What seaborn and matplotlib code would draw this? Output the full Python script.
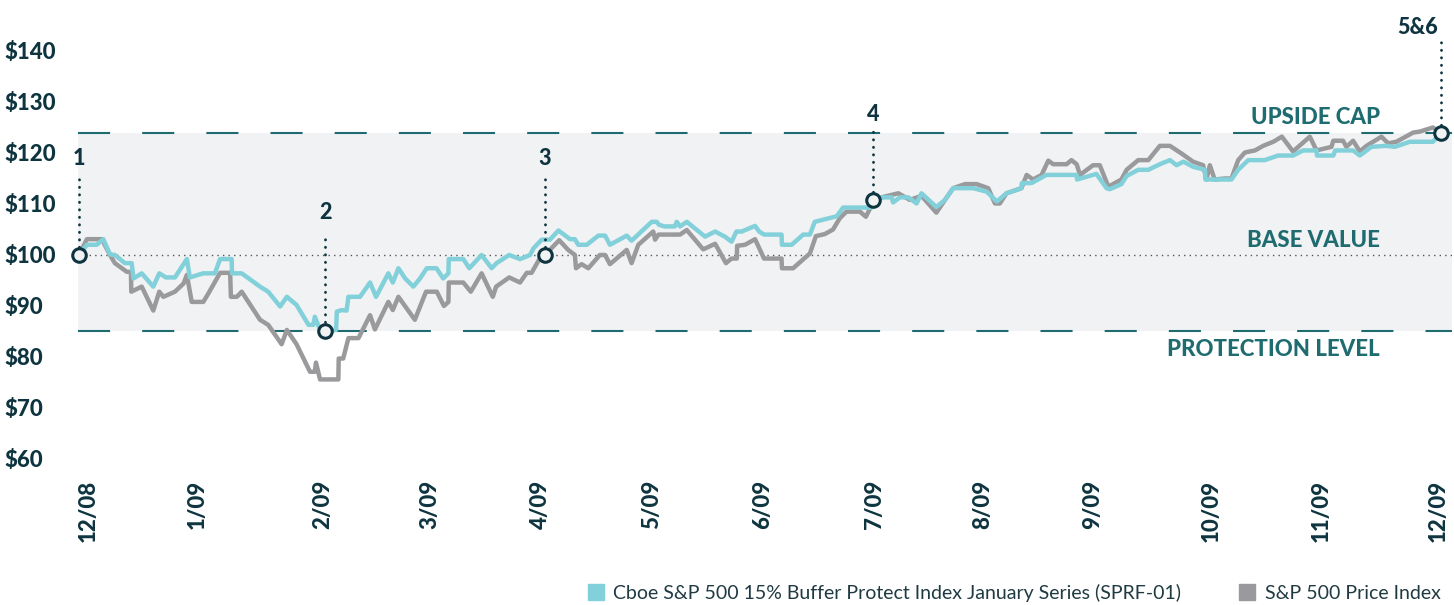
import matplotlib
matplotlib.use('Agg')
import matplotlib.pyplot as plt
import seaborn as sns
import pandas as pd
from matplotlib.lines import Line2D

# calendar days since the start of the outcome period
sprf_days = [0, 2.1, 4.7, 6.5, 8.3, 9.6, 12.3, 14.1, 14.6, 16.8, 19.9, 21.5, 23.3, 25.7, 28.9, 29.7,
             33.3, 36.4, 37.8, 40.9, 41.0, 43.6, 48.5, 50.7, 53.9, 55.7, 58.3, 61.5, 62.8, 63.2, 64.6,
             68.9, 69.1, 70.4, 71.7, 72.2, 75.3, 78.0, 79.6, 82.9, 84.1, 85.6, 87.4, 89.6, 91.4, 93.2,
             95.8, 97.6, 99.0, 99.1, 103.0, 104.6, 107.9, 110.6, 111.9, 115.3, 118.2, 120.9, 121.8,
             124.0, 126.2, 128.5, 131.6, 132.9, 133.8, 136.1, 139.2, 141.0, 142.3, 146.8, 148.1,
             153.5, 154.8, 155.5, 157.0, 159.7, 160.2, 161.1, 162.9, 167.8, 170.5, 173.1, 174.9,
             176.2, 177.6, 181.2, 182.3, 183.6, 188.3, 188.4, 191.0, 194.1, 195.9, 197.2, 199.9,
             203.1, 204.8, 212.4, 213.1, 215.1, 217.8, 218.2, 220.0, 222.3, 224.5, 225.8, 229.8,
             232.1, 234.3, 239.7, 243.3, 246.0, 248.6, 252.6, 252.7, 255.3, 259.3, 267.4, 267.5,
             272.7, 275.4, 276.3, 279.4, 280.8, 283.9, 286.6, 289.7, 292.4, 294.2, 296.0, 298.6,
             301.8, 301.9, 304.9, 308.9, 310.7, 313.4, 317.8, 321.4, 325.4, 328.1, 331.7, 331.8,
             336.2, 336.7, 341.5, 343.3, 346.4, 350.4, 352.7, 356.7, 362.9, 365.0]
sprf_vals = [100, 102, 102, 103.1, 100.1, 100, 98.4, 98.4, 95.4, 96.4, 93.8, 96.4, 95.6, 95.6, 99.2, 95.6,
             96.4, 96.4, 99.2, 99.2, 96.4, 96.4, 93.8, 92.8, 89.9, 91.8, 90.2, 86.3, 86.3, 87.9, 85.3,
             85.3, 88.9, 89.2, 89.1, 91.8, 91.8, 94.6, 91.8, 96.4, 94.6, 97.4, 95.4, 93.8, 95.4, 97.4,
             97.4, 95.4, 96.4, 99.2, 99.2, 97.4, 100, 97.4, 98.4, 100, 99.2, 100, 101.3,
             103, 103, 104.8, 103.1, 103.1, 102, 102, 103.8, 103.8, 102, 103.8, 102.8,
             106.5, 106.5, 105.9, 105.6, 105.6, 106.5, 105.6, 106.5, 103.6, 104.6, 103.6, 102.6,
             104.6, 104.6, 105.7, 104.6, 104, 104, 102, 102, 104, 104, 106.5, 107,
             107.6, 109.3, 109.3, 110.6, 111.3, 111.3, 110.3, 111.3, 111.3, 110.1, 112.1, 109.4,
             110.8, 113.1, 113.1, 112.4, 110.5, 112.1, 113.1, 114.1, 114.1, 115.7, 115.7, 114.8,
             115.9, 113.1, 112.9, 113.9, 115.5, 116.7, 116.7, 117.8, 118.6, 117.6, 118.3, 117.3,
             116.7, 114.8, 114.8, 114.8, 116.7, 118.6, 118.6, 119.5, 119.5, 120.5, 120.5, 119.5,
             119.5, 120.5, 120.5, 119.5, 121.2, 121.4, 121.2, 122.2, 122.2, 123.9]

spx_days = [0, 2.1, 6.1, 8.3, 9.6, 12.8, 13.9, 14.0, 16.8, 19.9, 21.5, 22.6, 25.7, 28.0, 28.9, 30.2,
            33.3, 34.7, 37.8, 40.5, 40.7, 42.3, 43.6, 48.5, 50.7, 54.3, 55.7, 58.3, 61.9, 63.2, 63.5,
            64.6, 69.5, 69.6, 70.8, 72.2, 74.9, 78.0, 79.3, 82.9, 84.1, 85.6, 90.0, 93.0, 95.9, 97.8,
            99.0, 99.1, 103.0, 105.0, 107.9, 110.9, 111.8, 115.3, 118.2, 120.0, 121.3, 124.0, 126.2,
            128.7, 131.1, 132.9, 133.2, 134.7, 136.5, 139.6, 141.0, 142.3, 146.8, 148.1, 149.9,
            153.9, 154.4, 155.3, 161.1, 162.9, 167.3, 170.5, 173.4, 174.9, 176.3, 176.4, 178.5,
            181.2, 183.6, 188.3, 188.4, 191.4, 195.9, 197.5, 199.9, 202.1, 203.9, 205.7, 209.3,
            210.9, 212.7, 215.1, 219.6, 222.7, 225.8, 229.8, 232.1, 234.3, 237.5, 240.6, 243.7,
            245.5, 246.8, 248.6, 252.6, 254.0, 255.7, 258.0, 259.8, 261.1, 264.7, 266.0, 267.4,
            268.3, 271.8, 273.6, 275.9, 279.4, 280.8, 283.9, 286.6, 288.8, 289.7, 292.4, 295.5,
            298.6, 301.3, 302.2, 303.1, 304.4, 307.1, 308.9, 310.7, 312.5, 315.2, 317.4, 320.1,
            322.4, 325.4, 329.9, 331.7, 335.7, 336.2, 338.8, 339.7, 341.5, 343.3, 345.1, 349.1,
            350.9, 353.1, 357.6, 359.4, 362.9, 365.0]
spx_vals = [100, 103.1, 103.1, 100, 98.4, 96.7, 96.7, 92.8, 93.8, 89.1, 92.8, 91.8, 92.8, 94.4, 96.1, 90.8,
            90.8, 92.5, 96.5, 96.5, 91.8, 91.8, 92.8, 87.3, 86.3, 82.5, 85.3, 82.5, 77.1, 77.1, 78.9,
            75.6, 75.6, 79.7, 79.7, 83.7, 83.7, 88.2, 85.4, 90.8, 89.2, 91.8, 87.3, 92.8, 92.8, 90,
            90.8, 94.6, 94.6, 92.8, 96.4, 91.8, 93.8, 95.6, 94.6, 96.5, 96.5, 100, 101,
            102.9, 101, 100, 97.4, 98.2, 97.4, 100, 100, 98.2, 101, 98.4, 102,
            104.6, 103, 104, 104, 104.9, 101.1, 102.2, 98.4, 99.3, 99.3, 101.8, 102,
            103.1, 99.3, 99.3, 97.4, 97.4, 100.3, 103.7, 104.1, 105, 107.2, 108.5, 108.5,
            107.5, 110.1, 111.3, 112.1, 110.8, 111.6, 108.3, 110.8, 113.1, 113.9, 113.9, 113.1,
            110.1, 110.1, 112.1, 113.1, 115.7, 114.8, 115.7, 118.5, 117.8, 117.8, 118.6, 117.8,
            115.7, 117.6, 117.6, 113.4, 114.8, 116.7, 118.6, 118.6, 120.6, 121.4, 121.4, 119.9,
            118.3, 117.6, 114.8, 117.6, 114.8, 115, 115, 118.6, 120.1, 120.5, 121.4, 122.2,
            123.2, 120.3, 123.2, 120.5, 121.2, 122.4, 122.4, 121.2, 122.4, 120.3, 121.4, 123.2,
            121.9, 122.2, 124, 124.2, 125, 123.9]

month_days = [2.5, 31.6, 65.4, 94.1, 123.8, 153.6, 183.3, 213.1, 242.3, 271.8, 303.4, 332.9, 364.3]
month_labels = ['12/08', '1/09', '2/09', '3/09', '4/09', '5/09', '6/09', '7/09', '8/09', '9/09',
                '10/09', '11/09', '12/09']
y_ticks = [60, 70, 80, 90, 100, 110, 120, 130, 140]

upside_cap = 123.9
base_value = 100
protection_level = 85

event_labels = ['1', '2', '3', '4', '5&6']
event_days = [0, 66.0, 124.9, 212.8, 365.0]
event_vals = [100, 85, 100, 110.8, 123.9]

sprf_name = 'Cboe S&P 500 15% Buffer Protect Index January Series (SPRF-01)'
spx_name = 'S&P 500 Price Index'

sns.set_style('white')
plt.rcParams['font.family'] = ['Lato', 'DejaVu Sans']

navy = '#0e3440'
teal = '#1e6b70'
cyan = '#82d0d9'
gray = '#9a9a9c'
band = '#f1f2f4'

fig = plt.figure(figsize=(14.54, 6.05), dpi=100)
ax = fig.add_axes([0.0536, 0.2314, 0.945, 0.7521])

ax.axhspan(protection_level, upside_cap, color=band, zorder=0, lw=0)
for lvl in [upside_cap, protection_level]:
    ax.axhline(lvl, color=teal, lw=1.5, dashes=(15.4, 15.4), zorder=1)
ax.axhline(base_value, color='#555555', lw=1.0, linestyle=(0, (1, 3)), zorder=1)

spx = pd.DataFrame({'day': spx_days, 'value': spx_vals})
sprf = pd.DataFrame({'day': sprf_days, 'value': sprf_vals})
sns.lineplot(data=spx, x='day', y='value', color=gray, lw=3.2, estimator=None, sort=False,
             ax=ax, zorder=2)
sns.lineplot(data=sprf, x='day', y='value', color=cyan, lw=3.2, estimator=None, sort=False,
             ax=ax, zorder=3)

# event markers with dotted leaders
offsets = [(19.0, 1.6, 15.7), (23.4, 1.9, 19.5), (19.0, 1.6, 15.1), (16.7, 1.6, 13.7), (20.8, 1.6, 18.3)]
for lab, d, v, (t, lo, hi) in zip(event_labels, event_days, event_vals, offsets):
    ax.plot([d, d], [v + lo, v + hi], color=navy, lw=2, linestyle=(0, (0.1, 2.6)),
            dash_capstyle='round', zorder=4, clip_on=False)
    tx = d - 6.1 if lab == '5&6' else d
    ax.text(tx, v + t, lab, color=navy, fontsize=15.5, fontweight='black', ha='center',
            va='center', clip_on=False)
ax.scatter(event_days, event_vals, s=95, facecolor=band, edgecolor=navy, linewidth=2.2,
           zorder=5, clip_on=False)

for label, yv in [('UPSIDE CAP', 126.9), ('BASE VALUE', 102.9), ('PROTECTION LEVEL', 81.4)]:
    ax.text(348.7, yv, label, color=teal, fontsize=16, fontweight='black', ha='right', va='center')

ax.set_xlim(-0.3, 368)
ax.set_ylim(58.82, 148.04)
ax.set_yticks(y_ticks)
ax.set_yticklabels([f'${v}' for v in y_ticks])
ax.set_xticks(month_days)
ax.set_xticklabels(month_labels, rotation=90)
ax.tick_params(axis='y', length=0, pad=52.6, labelsize=16, labelcolor=navy)
ax.tick_params(axis='x', length=0, pad=10.5, labelsize=16, labelcolor=navy)
for t in ax.get_yticklabels():
    t.set_ha('left')
    t.set_fontweight('black')
for t in ax.get_xticklabels():
    t.set_fontweight('black')
ax.set_xlabel('')
ax.set_ylabel('')
sns.despine(ax=ax, left=True, bottom=True)

handles = [Line2D([], [], marker='s', linestyle='', markersize=11, color=cyan),
           Line2D([], [], marker='s', linestyle='', markersize=11, color=gray)]
fig.legend(handles, [sprf_name, spx_name], loc='center right', bbox_to_anchor=(1.003, 0.0198),
           ncol=2, frameon=False, fontsize=14, handlelength=0.8, handletextpad=0.5,
           columnspacing=3.0, labelcolor='#1f3a42')

fig.savefig('out.png', dpi=100)
